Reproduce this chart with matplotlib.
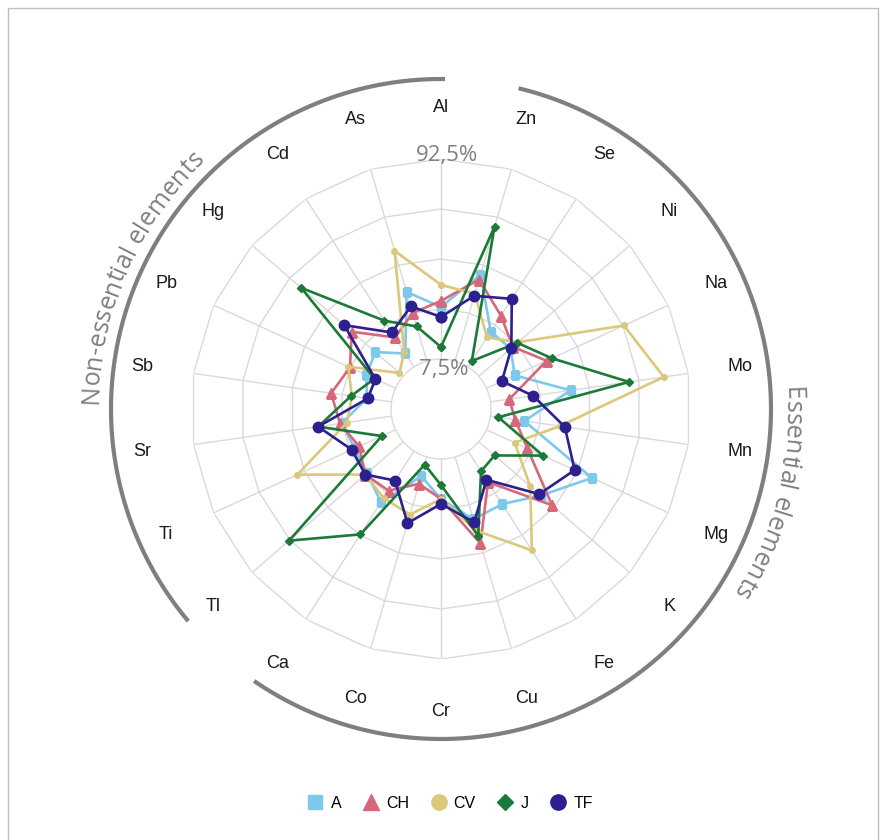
import numpy as np
import matplotlib
matplotlib.use("Agg")
import matplotlib.pyplot as plt
from matplotlib.lines import Line2D
from matplotlib.patches import Rectangle
from matplotlib import font_manager
from matplotlib.ft2font import FT2Font

elements = ["Al", "Zn", "Se", "Ni", "Na", "Mo", "Mn", "Mg", "K", "Fe", "Cu",
            "Cr", "Co", "Ca", "Tl", "Ti", "Sr", "Sb", "Pb", "Hg", "Cd", "As"]

# values in %
A  = [29.6, 45.8, 25.4, 25.4, 20.7, 41.9, 22.0, 56.8, 42.4, 34.3, 35.1,
      24.5, 16.0, 33.4, 27.9, 26.6, 28.8, 18.1, 21.1, 23.2, 14.3, 38.1]
CH = [32.2, 43.6, 33.4, 26.6, 35.6, 15.6, 18.1, 26.6, 48.7, 23.2, 45.8,
      24.5, 19.4, 27.5, 28.8, 24.5, 29.6, 33.4, 28.8, 36.4, 22.4, 28.8]
CV = [39.0, 37.3, 22.4, 29.6, 71.7, 81.9, 37.3, 20.7, 36.4, 57.7, 40.2,
      24.5, 33.0, 31.3, 28.8, 53.4, 26.6, 24.5, 29.6, 9.6, 15.2, 56.4]
J  = [12.6, 67.0, 10.5, 29.2, 38.1, 67.0, 10.9, 33.9, 16.4, 17.7, 42.4,
      18.6, 10.9, 49.6, 71.7, 13.9, 39.0, 24.9, 17.3, 64.9, 30.9, 22.8]
TF = [25.4, 36.4, 41.9, 25.8, 14.7, 25.8, 39.4, 48.7, 41.5, 22.0, 36.4,
      26.6, 36.8, 22.4, 28.8, 27.9, 39.0, 17.7, 16.9, 40.7, 24.9, 31.7]

series = [("A", A), ("CH", CH), ("CV", CV), ("J", J), ("TF", TF)]
colors = {"A": "#7ec8ec", "CH": "#d7677a", "CV": "#dbc878",
          "J": "#1c7a38", "TF": "#2c1f8e"}
markers = {"A": "s", "CH": "^", "CV": "o", "J": "D", "TF": "o"}
msizes = {"A": 6, "CH": 7.5, "CV": 4, "J": 4.5, "TF": 7.5}
leg_sizes = {"A": 10, "CH": 12, "CV": 11, "J": 8, "TF": 11}

rmin, rmax, rorigin = 7.5, 92.5, -13.75
rings = [28.75, 50.0, 71.25, 92.5]

W, H = 881, 840
fig = plt.figure(figsize=(W / 100, H / 100), dpi=100)
cx, cy, R = 441, 409, 250
ax = fig.add_axes([(cx - R) / W, (H - cy - R) / H, 2 * R / W, 2 * R / H],
                  projection="polar")
ax.set_theta_zero_location("N")
ax.set_theta_direction(-1)
ax.set_ylim(rmin, rmax)
ax.set_rorigin(rorigin)
ax.grid(False)
ax.set_xticks([])
ax.set_yticks([])
ax.spines["polar"].set_visible(False)
ax.spines["inner"].set_color("#d9d9d9")
ax.spines["inner"].set_linewidth(1)


def px_to_r(p):
    # radius in pixels from the centre -> radial data value
    return rorigin + p * (rmax - rorigin) / R


n = len(elements)
angles = np.arange(n) * 2 * np.pi / n
closed = np.append(angles, angles[0])

grid_c = "#d9d9d9"
for r in rings:
    ax.plot(closed, [r] * (n + 1), color=grid_c, lw=1, zorder=1)
for a in angles:
    ax.plot([a, a], [rmin, rmax], color=grid_c, lw=1, zorder=1)

for name, vals in series:
    v = np.append(vals, vals[0])
    ax.plot(closed, v, color=colors[name], lw=1.9, marker=markers[name],
            ms=msizes[name], zorder=3)

# category labels
for a, lab in zip(angles, elements):
    ax.text(a, px_to_r(302), lab, ha="center", va="center", fontsize=13,
            color="#1a1a1a", family="Liberation Sans", clip_on=False)

ax.annotate("92,5%", xy=(0, px_to_r(253)), xytext=(4, 0),
            textcoords="offset points", ha="center", va="center",
            fontsize=16, color="#808080", family="Open Sans", zorder=4,
            annotation_clip=False)
ax.annotate("7,5%", xy=(0, px_to_r(39)), xytext=(2, 0),
            textcoords="offset points", ha="center", va="center",
            fontsize=16, color="#808080", family="Open Sans", zorder=4,
            annotation_clip=False)

# group arcs
r_arc = px_to_r(330)
t1 = np.radians(np.linspace(230, 360.7, 200))
t2 = np.radians(np.linspace(13.6, 214.5, 300))
for t in (t1, t2):
    ax.plot(t, [r_arc] * len(t), color="#7f7f7f", lw=3, clip_on=False,
            solid_capstyle="butt")


def curved_text(s, center_deg, r_base, size, color):
    path = font_manager.findfont(font_manager.FontProperties(family="Open Sans"))
    font = FT2Font(path)
    font.set_size(size, 100)
    adv = [font.load_char(ord(c)).linearHoriAdvance / 65536 for c in s]
    total = sum(adv)
    pos = 0.0
    for c, w in zip(s, adv):
        off = pos + w / 2 - total / 2
        th = np.radians(center_deg) + off / r_base
        pos += w
        if c == " ":
            continue
        ax.text(th, px_to_r(r_base), c, rotation=-np.degrees(th),
                rotation_mode="anchor", ha="center", va="baseline",
                fontsize=size, color=color, family="Open Sans",
                clip_on=False)


curved_text("Non-essential elements", 293.7, 343, 18, "#7f7f7f")
curved_text("Essential elements", 104.3, 345, 18, "#7f7f7f")

handles = [Line2D([], [], ls="none", marker=markers[k], color=colors[k],
                  ms=leg_sizes[k]) for k, _ in series]
fig.legend(handles, [k for k, _ in series], loc="center", ncol=5,
           bbox_to_anchor=(0.51, 1 - 803 / H), frameon=False,
           handletextpad=0.35, columnspacing=1.25, handlelength=1.2,
           prop={"family": "Liberation Sans", "size": 11.5})

fig.patches.append(Rectangle((8 / W, -0.01), 870 / W, 1.0 - 8 / H + 0.01,
                             transform=fig.transFigure, fill=False,
                             edgecolor="#bfbfbf", lw=1))

fig.savefig("out.png", dpi=100)
